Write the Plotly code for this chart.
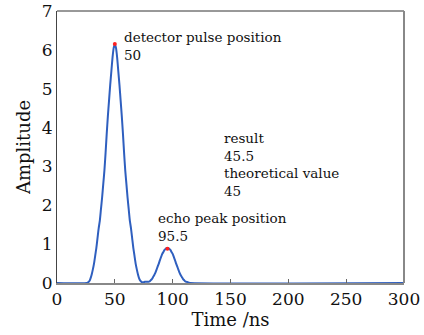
import plotly.graph_objects as go

time_ns = [0, 26, 27, 28, 29, 30, 31, 32, 33, 34, 35, 36, 37, 38, 39, 40, 41, 42, 43, 44, 45,
           46, 47, 48, 49, 50, 51, 52, 53, 54, 55, 56, 57, 58, 59, 60, 61, 62, 63, 64, 65,
           66, 67, 68, 69, 70, 71, 72, 73, 74, 75, 76, 77, 78, 79, 80, 81, 82, 83, 84, 85,
           86, 87, 88, 89, 90, 91, 92, 93, 94, 95, 96, 97, 98, 99, 100, 101, 102, 103, 104,
           105, 106, 107, 108, 109, 110, 111, 112, 113, 114, 115, 300]
amplitude = [0, 0, 0.02, 0.05, 0.12, 0.22, 0.35, 0.5, 0.7, 0.9, 1.15, 1.4, 1.6, 1.9, 2.2, 2.55,
             2.9, 3.35, 3.85, 4.3, 4.7, 5.1, 5.45, 5.8, 6.05, 6.15, 6.05, 5.8, 5.45, 5.1, 4.7,
             4.3, 3.85, 3.35, 2.9, 2.55, 2.2, 1.9, 1.6, 1.4, 1.15, 0.9, 0.7, 0.5, 0.35, 0.22,
             0.12, 0.06, 0.03, 0.02, 0.02, 0.03, 0.03, 0.03, 0.03, 0.04, 0.07, 0.1, 0.15, 0.2,
             0.26, 0.34, 0.42, 0.5, 0.59, 0.67, 0.75, 0.8, 0.85, 0.88, 0.9, 0.9, 0.88, 0.85,
             0.8, 0.75, 0.67, 0.59, 0.5, 0.42, 0.34, 0.26, 0.2, 0.15, 0.1, 0.07, 0.04, 0.03,
             0.02, 0.01, 0, 0]

peak_x = [50, 95.5]
peak_y = [6.15, 0.88]

x_ticks = [0, 50, 100, 150, 200, 250, 300]
y_ticks = [0, 1, 2, 3, 4, 5, 6, 7]

# (x in ns, amplitude of the block centre, text)
notes = [
    (57.9, 6.09, "detector pulse position<br>50"),
    (87.6, 1.43, "echo peak position<br>95.5"),
    (144, 3.05, "result<br>45.5<br>theoretical value<br>45"),
]

FONT = "DejaVu Serif"

fig = go.Figure()
fig.add_trace(go.Scatter(x=time_ns, y=amplitude, mode="lines",
                         line=dict(color="#2F5FBF", width=2, shape="spline", smoothing=0.6),
                         showlegend=False, hoverinfo="skip"))
fig.add_trace(go.Scatter(x=peak_x, y=peak_y, mode="markers",
                         marker=dict(color="#FF2020", size=4), showlegend=False))

for x, y, txt in notes:
    fig.add_annotation(x=x, y=y, text=txt, showarrow=False, xanchor="left", yanchor="middle",
                       align="left", xshift=-2, font=dict(family=FONT, size=13.5, color="#111"))

# top and right frame lines
fig.add_shape(type="line", xref="paper", yref="paper", x0=0, x1=1, y0=1, y1=1,
              line=dict(color="#333", width=1))
fig.add_shape(type="line", xref="paper", yref="paper", x0=1, x1=1, y0=0, y1=1,
              line=dict(color="#888", width=2))

fig.update_layout(
    width=424, height=335,
    margin=dict(l=57, r=20, t=11, b=52),
    paper_bgcolor="white", plot_bgcolor="white",
    font=dict(family=FONT, size=17, color="#111"),
    xaxis=dict(range=[0, 300], tickvals=x_ticks, ticks="inside", ticklen=4,
               tickcolor="#666", showline=True, linecolor="#888", linewidth=1.5,
               showgrid=False, zeroline=False, automargin=False,
               title=dict(text="Time /ns", font=dict(size=18), standoff=3),
               tickfont=dict(size=17)),
    yaxis=dict(range=[0, 7], tickvals=y_ticks, ticks="", showline=True,
               linecolor="#444", linewidth=1, showgrid=False, zeroline=False,
               automargin=False,
               title=dict(text="Amplitude", font=dict(size=18), standoff=6),
               tickfont=dict(size=17)),
)

fig.write_html("out.html", config={"displayModeBar": False},
               post_script="document.body.style.margin='0';")
